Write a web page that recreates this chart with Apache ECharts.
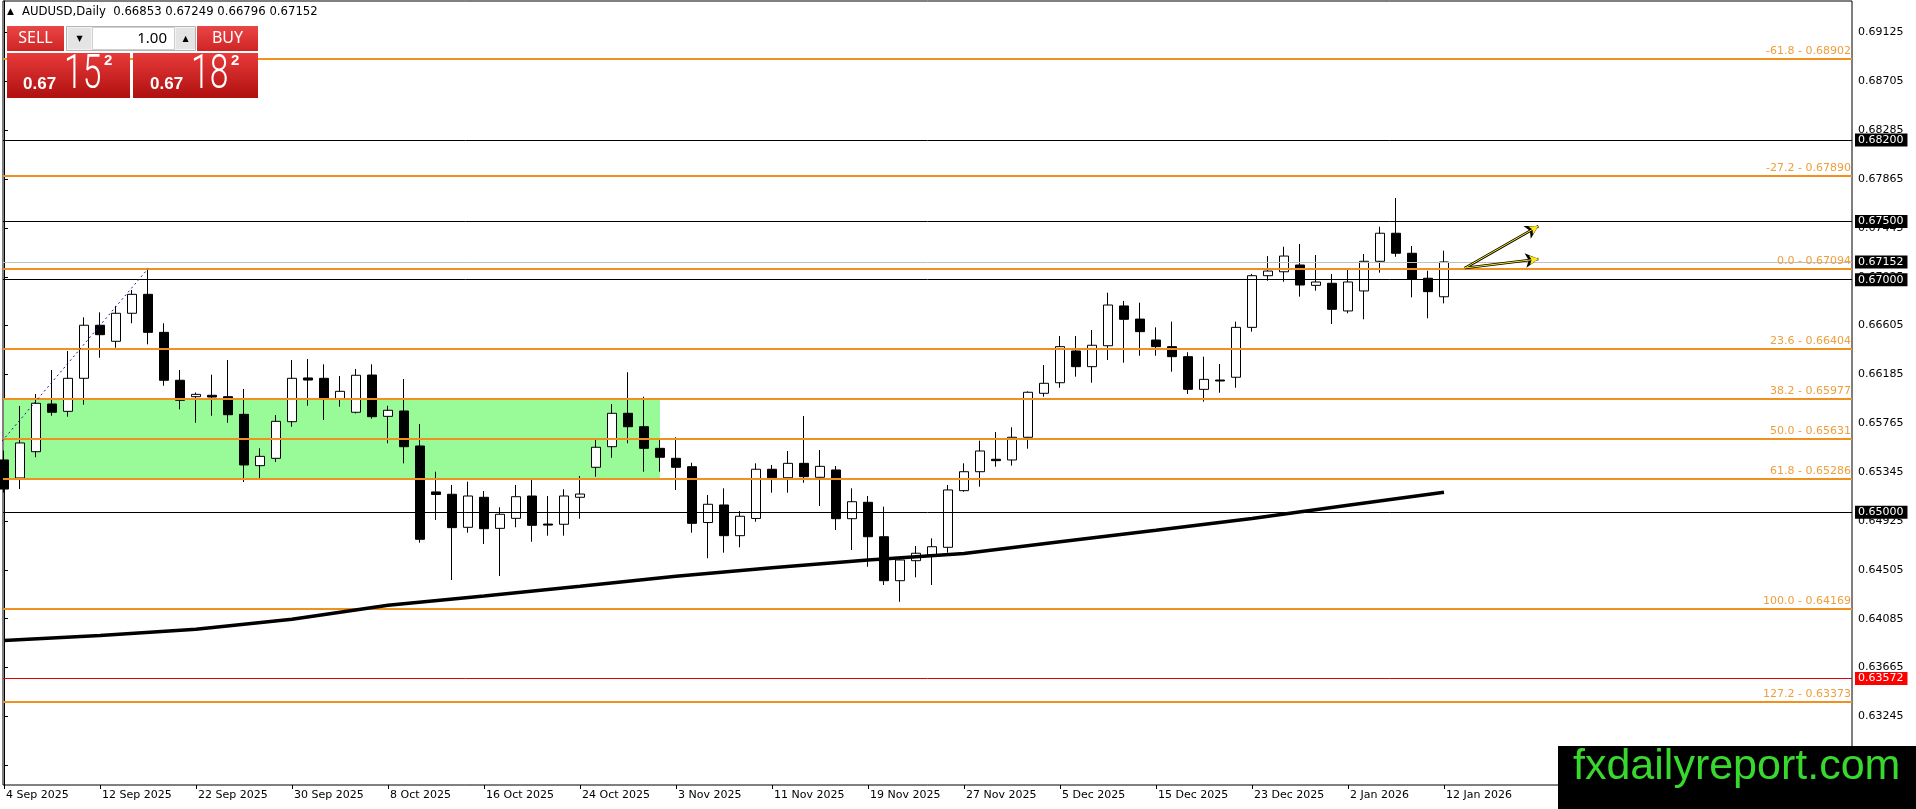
<!DOCTYPE html>
<html>
<head>
<meta charset="utf-8">
<title>AUDUSD Daily</title>
<script src="https://cdn.jsdelivr.net/npm/echarts@6.0.0/dist/echarts.min.js"></script>
<style>
html,body{margin:0;padding:0;background:#ffffff;overflow:hidden;}
#chart{width:1916px;height:809px;}
</style>
</head>
<body>
<div id="chart"></div>
<script>
// ---------------- data ----------------
const symbolTitle = 'AUDUSD,Daily';
const dates = [
 '4 Sep 2025','5 Sep 2025','8 Sep 2025','9 Sep 2025','10 Sep 2025','11 Sep 2025','12 Sep 2025','15 Sep 2025','16 Sep 2025','17 Sep 2025','18 Sep 2025','19 Sep 2025','22 Sep 2025','23 Sep 2025','24 Sep 2025','25 Sep 2025','26 Sep 2025','29 Sep 2025','30 Sep 2025',
 '1 Oct 2025','2 Oct 2025','3 Oct 2025','6 Oct 2025','7 Oct 2025','8 Oct 2025','9 Oct 2025','10 Oct 2025','13 Oct 2025','14 Oct 2025','15 Oct 2025','16 Oct 2025','17 Oct 2025','20 Oct 2025','21 Oct 2025','22 Oct 2025','23 Oct 2025','24 Oct 2025','27 Oct 2025','28 Oct 2025','29 Oct 2025','30 Oct 2025','31 Oct 2025',
 '3 Nov 2025','4 Nov 2025','5 Nov 2025','6 Nov 2025','7 Nov 2025','10 Nov 2025','11 Nov 2025','12 Nov 2025','13 Nov 2025','14 Nov 2025','17 Nov 2025','18 Nov 2025','19 Nov 2025','20 Nov 2025','21 Nov 2025','24 Nov 2025','25 Nov 2025','26 Nov 2025','27 Nov 2025','28 Nov 2025',
 '1 Dec 2025','2 Dec 2025','3 Dec 2025','4 Dec 2025','5 Dec 2025','8 Dec 2025','9 Dec 2025','10 Dec 2025','11 Dec 2025','12 Dec 2025','15 Dec 2025','16 Dec 2025','17 Dec 2025','18 Dec 2025','19 Dec 2025','22 Dec 2025','23 Dec 2025','24 Dec 2025','26 Dec 2025','29 Dec 2025','30 Dec 2025','31 Dec 2025',
 '2 Jan 2026','5 Jan 2026','6 Jan 2026','7 Jan 2026','8 Jan 2026','9 Jan 2026','12 Jan 2026'
];
const opens = [
 0.6545,0.65295,0.65521,0.65931,0.65868,0.66152,0.66608,0.6647,0.66711,0.66874,0.66547,0.66135,0.65994,0.66006,0.65994,0.65842,0.65401,0.65464,0.65779,
 0.66155,0.66152,0.65971,0.6586,0.6618,0.65825,0.65871,0.6557,0.65175,0.65155,0.64871,0.65129,0.64862,0.64948,0.6514,0.64899,0.64897,0.65129,0.65387,0.65564,0.65851,0.65736,0.6555,
 0.65464,0.65392,0.64912,0.65063,0.64799,0.64947,0.6537,0.65297,0.65421,0.65301,0.65364,0.64945,0.65086,0.6479,0.64412,0.64584,0.64633,0.64699,0.65186,0.65349,
 0.65456,0.6545,0.65645,0.66023,0.66114,0.66387,0.66252,0.66432,0.66774,0.66661,0.66481,0.66424,0.66338,0.66057,0.66137,0.66161,0.6659,0.67034,0.67068,0.67126,0.66951,0.66969,
 0.66731,0.66903,0.67158,0.67399,0.67227,0.67012,0.66853
];
const highs = [
 0.6553,0.65914,0.66017,0.66223,0.66387,0.66676,0.66719,0.66774,0.66911,0.67094,0.66625,0.66223,0.6603,0.66183,0.66309,0.6606,0.6555,0.65836,0.66309,
 0.66318,0.66272,0.66172,0.66232,0.66272,0.65916,0.66146,0.65759,0.65349,0.65235,0.65263,0.65183,0.65043,0.65235,0.65278,0.6514,0.65198,0.65312,0.65622,0.65931,0.66204,0.65994,0.65622,
 0.65645,0.65426,0.65149,0.65206,0.65011,0.65421,0.65407,0.65527,0.65828,0.65536,0.65398,0.65206,0.6514,0.65048,0.6461,0.6471,0.64776,0.65235,0.65421,0.65616,
 0.6569,0.65731,0.6604,0.66266,0.66516,0.66516,0.66567,0.66888,0.66817,0.66802,0.6659,0.66639,0.66376,0.66338,0.66275,0.66639,0.67049,0.67203,0.67283,0.67307,0.67212,0.67049,
 0.67092,0.67221,0.67455,0.67702,0.67289,0.67077,0.67249
];
const lows = [
 0.6517,0.6520,0.65473,0.6583,0.65822,0.65925,0.66329,0.66415,0.66625,0.66444,0.66088,0.65885,0.6577,0.6583,0.6577,0.6526,0.65286,0.65432,0.65736,
 0.65916,0.65793,0.65908,0.6585,0.65805,0.65593,0.65421,0.64739,0.64934,0.64418,0.64825,0.64727,0.64452,0.64871,0.64747,0.64799,0.64799,0.64945,0.65306,0.65469,0.65593,0.65349,0.65349,
 0.65192,0.64825,0.64605,0.64653,0.64699,0.64919,0.65169,0.65169,0.65254,0.65054,0.64848,0.64676,0.64532,0.64375,0.64231,0.64441,0.64375,0.64653,0.65177,0.6522,
 0.65392,0.65401,0.65547,0.65994,0.66071,0.66166,0.66114,0.66309,0.66286,0.66346,0.66346,0.66209,0.66017,0.65951,0.66028,0.66071,0.66553,0.66991,0.66982,0.66854,0.66905,0.66619,
 0.66711,0.66659,0.6706,0.67197,0.66848,0.66668,0.66796
];
const closes = [
 0.6520,0.65596,0.65937,0.6586,0.66152,0.66608,0.66527,0.66711,0.66874,0.66547,0.66135,0.65963,0.66014,0.65991,0.65839,0.65407,0.65481,0.65782,0.66152,
 0.66137,0.65971,0.6604,0.66178,0.65822,0.65877,0.65564,0.64768,0.65153,0.64868,0.6514,0.64859,0.64983,0.65134,0.64888,0.6489,0.6514,0.65157,0.65559,0.65851,0.65736,0.6555,0.65473,
 0.65387,0.64905,0.65069,0.64799,0.64966,0.6537,0.65297,0.65421,0.65306,0.65395,0.64945,0.65091,0.6479,0.64412,0.6459,0.64648,0.64704,0.65192,0.65349,0.65527,
 0.65444,0.65645,0.66032,0.66109,0.66424,0.66252,0.66436,0.66782,0.66659,0.66553,0.66424,0.66338,0.66057,0.66143,0.66129,0.6659,0.67034,0.67074,0.67203,0.66954,0.6698,0.66745,
 0.6698,0.67158,0.67399,0.67227,0.67003,0.66897,0.67152
];
// moving average, sampled every 6 bars
const maBars   = [0,6,12,18,24,30,36,42,48,54,60,66,72,78,84,90];
const maValues = [0.63898,0.6394,0.63995,0.6408,0.642,0.6428,0.64364,0.64451,0.64524,0.64589,0.64645,0.64746,0.64846,0.64947,0.6506,0.65172];

const xTickDates = ['4 Sep 2025','12 Sep 2025','22 Sep 2025','30 Sep 2025','8 Oct 2025','16 Oct 2025','24 Oct 2025','3 Nov 2025','11 Nov 2025','19 Nov 2025','27 Nov 2025','5 Dec 2025','15 Dec 2025','23 Dec 2025','2 Jan 2026','12 Jan 2026'];
const yTicks = [0.69125,0.68705,0.68285,0.67865,0.67445,0.67025,0.66605,0.66185,0.65765,0.65345,0.64925,0.64505,0.64085,0.63665,0.63245,0.62825];

const fibRatios = ['-61.8','-27.2','0.0','23.6','38.2','50.0','61.8','100.0','127.2'];
const fibPrices = [0.68902,0.67890,0.67094,0.66404,0.65977,0.65631,0.65286,0.64169,0.63373];
const blackLevels = [0.68200,0.67500,0.67000,0.65000];
const redLevels = [0.63572];
const bidPrice = 0.67152;
const askPrice = 0.67182;
const lotSize = '1.00';

// fibonacci anchor (low bar offset, high bar) and zone
const fibAnchorBars = [-9, 9];
const fibAnchorPrices = [0.64169, 0.67094];
const zoneBars = [0, 41];
const zonePrices = [0.65977, 0.65286];
// arrows drawn on chart: start and end (bar, price)
const arrowStart = [91.3, 0.67100];
const arrowEnds = [[95.9, 0.67461],[95.9, 0.67178]];

// ---------------- layout ----------------
const W = 1916, H = 809;
const plotLeft = 3, plotRight = 1852, plotTop = 1, plotBottom = 785;
const barPx = 16, firstBarX = 4;
const xMin = (plotLeft - firstBarX) / barPx;
const xMax = (plotRight - firstBarX) / barPx;
// price scale: 0.67500 at y=221.5, 11632 px per unit
const pxPerUnit = 11632, refPrice = 0.675, refY = 221.5;
const yMax = refPrice + (refY - plotTop) / pxPerUnit;
const yMin = refPrice - (plotBottom - refY) / pxPerUnit;

const axisFont = 'DejaVu Sans';
const fibLineColor = '#F0901E';
const fibTextColor = '#EF9E3C';

const candles = dates.map((d, i) => [i, opens[i], closes[i], lows[i], highs[i]]);
const maData = maBars.map((b, i) => [b, maValues[i]]);
const trendData = fibAnchorBars.map((b, i) => [b, fibAnchorPrices[i]]);
const xTickIdx = xTickDates.map(d => dates.indexOf(d));

function boxLabel(text, bg) {
  return {
    show: true, position: 'end', distance: 3, formatter: text,
    backgroundColor: bg, color: '#ffffff', fontFamily: axisFont, fontSize: 11,
    padding: [1, 4, 0, 3], lineHeight: 12
  };
}

const levelLines = [];
blackLevels.forEach(v => levelLines.push({
  yAxis: v, lineStyle: {color: '#000000', width: 1, type: 'solid'},
  label: boxLabel(v.toFixed(5), '#000000')
}));
redLevels.forEach(v => levelLines.push({
  yAxis: v, lineStyle: {color: '#E00000', width: 1, type: 'solid'},
  label: boxLabel(v.toFixed(5), '#FF0000')
}));
levelLines.push({
  yAxis: bidPrice, lineStyle: {color: '#C0C0C0', width: 1, type: 'solid'},
  label: boxLabel(bidPrice.toFixed(5), '#000000')
});

const fibLines = fibPrices.map((p, i) => ({
  yAxis: p,
  lineStyle: {color: fibLineColor, width: 2, type: 'solid'},
  label: {
    show: true, position: 'insideEndTop', distance: [1, 2],
    formatter: fibRatios[i] + ' - ' + p.toFixed(5),
    color: fibTextColor, fontFamily: axisFont, fontSize: 11
  }
}));

function arrowPairs() {
  return arrowEnds.map(e => [{coord: arrowStart}, {coord: e}]);
}

const btnGrad = {type: 'linear', x: 0, y: 0, x2: 0, y2: 1, colorStops: [{offset: 0, color: '#EA4646'}, {offset: 1, color: '#CF2424'}]};
const boxGrad = {type: 'linear', x: 0, y: 0, x2: 0, y2: 1, colorStops: [{offset: 0, color: '#E83A3A'}, {offset: 1, color: '#B01010'}]};

function priceParts(p) {
  const s = p.toFixed(5);
  return [s.slice(0, 4), s.slice(4, 6), s.slice(6)];
}
const bidParts = priceParts(bidPrice);
const askParts = priceParts(askPrice);
const headerText = symbolTitle + '  ' + [opens[90], highs[90], lows[90], closes[90]].map(v => v.toFixed(5)).join(' ');

function priceBoxTexts(x0, parts) {
  return [
    {type: 'text', x: x0, y: 84, z: 101, style: {text: parts[0], fill: '#fff', font: 'bold 17px "Liberation Sans"', verticalAlign: 'middle'}},
    {type: 'text', x: x0 + 41, y: 76, z: 101, scaleX: 0.7, style: {text: parts[1], fill: '#fff', font: '300 48px Roboto', verticalAlign: 'middle'}},
    {type: 'text', x: x0 + 81, y: 61, z: 101, style: {text: parts[2], fill: '#fff', font: 'bold 15px "Liberation Sans"', verticalAlign: 'middle'}}
  ];
}

const graphics = [
  {type: 'text', x: 7, y: 12, z: 100, style: {text: '\u25B2', fill: '#000', font: '9px "DejaVu Sans"', verticalAlign: 'middle'}},
  {type: 'text', x: 22, y: 12, z: 100, style: {text: headerText, fill: '#000', font: '11.7px "DejaVu Sans"', verticalAlign: 'middle'}},
  {type: 'rect', z: 100, shape: {x: 7, y: 26, width: 57, height: 25}, style: {fill: btnGrad}},
  {type: 'text', x: 35.5, y: 38.5, z: 101, style: {text: 'SELL', fill: '#fff', font: '16px "Noto Sans"', align: 'center', verticalAlign: 'middle'}},
  {type: 'rect', z: 100, shape: {x: 66.5, y: 26.5, width: 129, height: 24}, style: {fill: '#f2f2f2', stroke: '#b4b4b4', lineWidth: 1}},
  {type: 'rect', z: 101, shape: {x: 68, y: 28, width: 23, height: 21}, style: {fill: '#e4e4e4'}},
  {type: 'text', x: 79.5, y: 38.5, z: 102, style: {text: '\u25BC', fill: '#000', font: '8px "DejaVu Sans"', align: 'center', verticalAlign: 'middle'}},
  {type: 'rect', z: 101, shape: {x: 92.5, y: 27.5, width: 82, height: 22}, style: {fill: '#ffffff', stroke: '#cfcfcf', lineWidth: 1}},
  {type: 'text', x: 167, y: 38.5, z: 102, style: {text: lotSize, fill: '#000', font: '15px "Noto Sans"', align: 'right', verticalAlign: 'middle'}},
  {type: 'rect', z: 101, shape: {x: 176, y: 28, width: 19, height: 21}, style: {fill: '#e4e4e4'}},
  {type: 'text', x: 185.5, y: 38.5, z: 102, style: {text: '\u25B2', fill: '#000', font: '8px "DejaVu Sans"', align: 'center', verticalAlign: 'middle'}},
  {type: 'rect', z: 100, shape: {x: 197, y: 26, width: 61, height: 25}, style: {fill: btnGrad}},
  {type: 'text', x: 227.5, y: 38.5, z: 101, style: {text: 'BUY', fill: '#fff', font: '16px "Noto Sans"', align: 'center', verticalAlign: 'middle'}},
  {type: 'rect', z: 100, shape: {x: 7, y: 53, width: 123, height: 45}, style: {fill: boxGrad}},
  {type: 'rect', z: 100, shape: {x: 133, y: 53, width: 125, height: 45}, style: {fill: boxGrad}},
  ...priceBoxTexts(23, bidParts),
  ...priceBoxTexts(150, askParts),
  {type: 'rect', z: 100, shape: {x: 1558, y: 746, width: 358, height: 63}, style: {fill: '#000000'}},
  {type: 'text', x: 1573, y: 767, z: 101, style: {text: 'fxdailyreport.com', fill: '#38D82E', font: '43px "Liberation Sans"', verticalAlign: 'middle'}}
];

const chart = echarts.init(document.getElementById('chart'), null, {renderer: 'canvas', width: W, height: H});
const option = {
  animation: false,
  backgroundColor: '#ffffff',
  tooltip: {show: false},
  grid: {
    left: plotLeft, right: W - plotRight, top: plotTop, bottom: H - plotBottom,
    show: true, borderColor: '#000000', borderWidth: 1, backgroundColor: 'transparent',
    containLabel: false, outerBoundsMode: 'none'
  },
  xAxis: {
    type: 'value', min: xMin, max: xMax,
    splitLine: {show: false},
    axisLine: {show: false},
    axisTick: {show: true, length: 4, customValues: xTickIdx, lineStyle: {color: '#000'}},
    axisLabel: {
      show: true, customValues: xTickIdx, align: 'left', margin: 5, padding: [0, 0, 0, 2],
      color: '#000', fontFamily: axisFont, fontSize: 11,
      formatter: v => dates[Math.round(v)] || ''
    }
  },
  yAxis: {
    type: 'value', position: 'right', min: yMin, max: yMax, scale: true,
    splitLine: {show: false},
    axisLine: {show: true, lineStyle: {color: '#000'}},
    axisTick: {show: true, length: 4, customValues: yTicks, lineStyle: {color: '#000'}},
    axisLabel: {
      show: true, customValues: yTicks, margin: 6, color: '#000', fontFamily: axisFont, fontSize: 11,
      formatter: v => v.toFixed(5)
    }
  },
  graphic: graphics,
  series: [
    {
      name: 'zone', type: 'line', data: [], silent: true, z: 1,
      markArea: {
        silent: true, itemStyle: {color: '#98FB98', opacity: 1},
        data: [[{coord: [zoneBars[0], zonePrices[0]]}, {coord: [zoneBars[1], zonePrices[1]]}]]
      }
    },
    {
      name: 'AUDUSD', type: 'candlestick', z: 3, silent: true, barWidth: 9, clip: true,
      data: candles,
      itemStyle: {color: '#ffffff', color0: '#000000', borderColor: '#000000', borderColor0: '#000000', borderWidth: 1}
    },
    {
      name: 'levels', type: 'line', data: [], silent: true, z: 4,
      markLine: {silent: true, precision: 8, symbol: ['none', 'none'], animation: false, data: levelLines}
    },
    {
      name: 'fibo', type: 'line', data: [], silent: true, z: 4,
      markLine: {silent: true, precision: 8, symbol: ['none', 'none'], animation: false, data: fibLines}
    },
    {
      name: 'MA', type: 'line', data: maData, silent: true, z: 5, symbol: 'none', showSymbol: false,
      lineStyle: {color: '#000000', width: 3.5}
    },
    {
      name: 'fiboTrend', type: 'line', data: trendData, silent: true, z: 5, symbol: 'none', clip: true,
      lineStyle: {color: '#1C1C8C', width: 1, type: [2, 3]}
    },
    {
      name: 'arrowOutline', type: 'line', data: [], silent: true, z: 6,
      markLine: {silent: true, precision: 8, symbol: ['none', 'arrow'], symbolSize: [11, 13], animation: false,
        lineStyle: {color: '#000000', width: 2.6, type: 'solid'}, label: {show: false}, data: arrowPairs()}
    },
    {
      name: 'arrowFill', type: 'line', data: [], silent: true, z: 7,
      markLine: {silent: true, precision: 8, symbol: ['none', 'arrow'], symbolSize: [7, 9], animation: false,
        lineStyle: {color: '#FFE81A', width: 1, type: 'solid'}, label: {show: false}, data: arrowPairs()}
    }
  ]
};
chart.setOption(option);
</script>
</body>
</html>
